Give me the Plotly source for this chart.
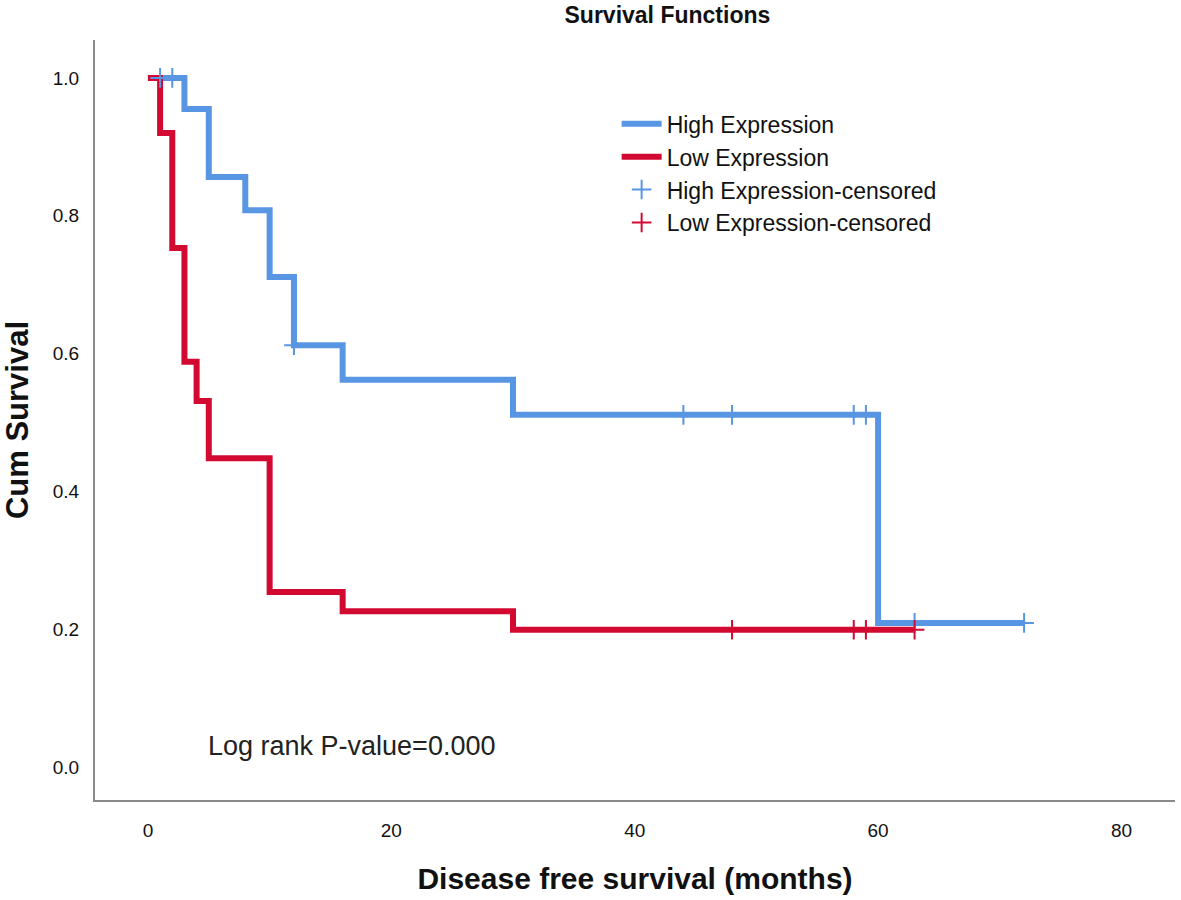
import plotly.graph_objects as go
import numpy as np

# Kaplan-Meier step data (months, cumulative survival)
high_times = [0, 3, 5, 8, 10, 12, 16, 30, 60, 72]
high_surv = [1.0, 0.955, 0.856, 0.808, 0.711, 0.612, 0.562, 0.511, 0.209, 0.209]
low_times = [0, 1, 2, 3, 4, 5, 10, 16, 30, 63]
low_surv = [1.0, 0.92, 0.753, 0.588, 0.531, 0.448, 0.254, 0.226, 0.199, 0.199]

high_censored = [1, 2, 12, 44, 48, 58, 59, 63, 72]
low_censored = [48, 58, 59, 63]

x_ticks = [0, 20, 40, 60, 80]
y_ticks = [0.0, 0.2, 0.4, 0.6, 0.8, 1.0]

BLUE = "#5896E3"
RED = "#D20A32"


def surv_at(times, surv, t):
    idx = np.searchsorted(times, t, side="right") - 1
    return surv[max(idx, 0)]


fig = go.Figure()
fig.add_trace(go.Scatter(x=high_times, y=high_surv, mode="lines", line_shape="hv",
                         line=dict(color=BLUE, width=6), name="High Expression"))
fig.add_trace(go.Scatter(x=low_times, y=low_surv, mode="lines", line_shape="hv",
                         line=dict(color=RED, width=6), name="Low Expression"))
fig.add_trace(go.Scatter(x=high_censored, y=[surv_at(high_times, high_surv, t) for t in high_censored],
                         mode="markers", marker=dict(symbol="cross-thin", size=14,
                                                     line=dict(color=BLUE, width=2)),
                         name="High Expression-censored"))
fig.add_trace(go.Scatter(x=low_censored, y=[surv_at(low_times, low_surv, t) for t in low_censored],
                         mode="markers", marker=dict(symbol="cross-thin", size=14,
                                                     line=dict(color=RED, width=2)),
                         name="Low Expression-censored"))

fig.add_annotation(x=4.8, y=0.03, xref="x", yref="y", text="Log rank P-value=0.000",
                   showarrow=False, xanchor="left", yanchor="middle",
                   font=dict(size=27, color="#222"))

fig.update_layout(
    width=1181, height=900,
    margin=dict(l=95, r=6, t=40, b=100),
    paper_bgcolor="white", plot_bgcolor="white",
    font=dict(family="Liberation Sans, Arial, sans-serif", color="#111"),
    title=dict(text="<b>Survival Functions</b>", x=0.53, xref="paper", xanchor="center",
               y=1 - 15 / 900, yref="container", yanchor="middle", font=dict(size=23, color="#111")),
    showlegend=True,
    legend=dict(x=0.483, y=0.918, xanchor="left", yanchor="top", bgcolor="rgba(0,0,0,0)",
                font=dict(size=23, color="#111"), tracegroupgap=0, itemwidth=40),
    xaxis=dict(range=[-4.35, 84.4], tickvals=x_ticks, ticktext=[str(v) for v in x_ticks],
               showgrid=False, zeroline=False, showline=True, linecolor="#8a8a8a", linewidth=2,
               ticks="", tickfont=dict(size=19, color="#111"), ticklabelstandoff=12,
               automargin=False,
               title=dict(text="<b>Disease free survival (months)</b>", font=dict(size=30, color="#111"),
                          standoff=28)),
    yaxis=dict(range=[-0.048, 1.055], tickvals=y_ticks, ticktext=[f"{v:.1f}" for v in y_ticks],
               showgrid=False, zeroline=False, showline=True, linecolor="#8a8a8a", linewidth=2,
               ticks="", tickfont=dict(size=19, color="#111"), ticklabelstandoff=10,
               automargin=False,
               title=dict(text="<b>Cum Survival</b>", font=dict(size=31, color="#111"), standoff=19)),
)

fig.write_html("out.html", config={"displayModeBar": False},
               post_script="document.body.style.margin='0';")
